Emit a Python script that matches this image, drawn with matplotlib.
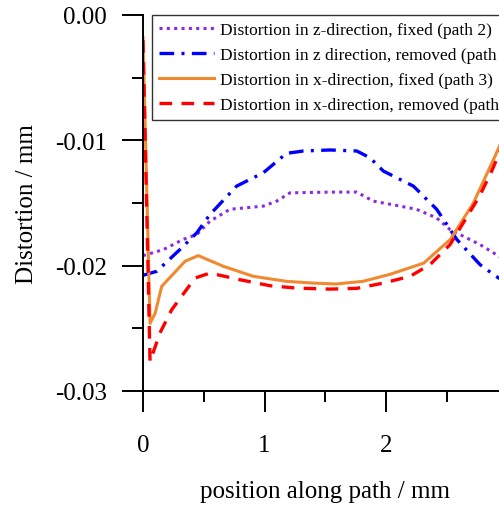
import numpy as np
import matplotlib
matplotlib.use("Agg")
from matplotlib import pyplot as plt

plt.rcParams['font.family'] = ['Liberation Serif', 'DejaVu Serif']

# z-direction, fixed (path 2)
x_zfix = [0.0, 0.167, 0.332, 0.442, 0.551, 0.716, 0.99, 1.10, 1.21, 1.539, 1.759,
          1.895, 2.09, 2.25, 2.417, 2.527, 2.636, 2.774, 2.905, 3.0]
y_zfix = [-0.0192, -0.01872, -0.0179, -0.01752, -0.01645, -0.0155, -0.01525, -0.01485,
          -0.01419, -0.01413, -0.01413, -0.01485, -0.0152, -0.0155, -0.01619, -0.01712,
          -0.01765, -0.01832, -0.0191, -0.0197]

# z direction, removed (path 2)
x_zrem = [0.0, 0.113, 0.305, 0.442, 0.551, 0.771, 0.99, 1.18, 1.32, 1.539, 1.759,
          1.868, 1.978, 2.225, 2.417, 2.582, 2.774, 2.905, 3.0]
y_zrem = [-0.02077, -0.02045, -0.0187, -0.01739, -0.01592, -0.01365, -0.01259, -0.01104,
          -0.01085, -0.01077, -0.01085, -0.01139, -0.01245, -0.01365, -0.0155, -0.0179,
          -0.01992, -0.02085, -0.0214]

# x-direction, fixed (path 3)
x_xfix = [0.0, 0.058, 0.10, 0.154, 0.346, 0.455, 0.661, 0.908, 1.18, 1.40, 1.59,
          1.81, 2.03, 2.31, 2.53, 2.72, 2.905, 3.0]
y_xfix = [-0.0018, -0.0246, -0.0238, -0.02165, -0.01965, -0.0192, -0.02005, -0.02085,
          -0.02125, -0.02139, -0.02146, -0.02125, -0.0207, -0.0198, -0.0179, -0.01499,
          -0.0111, -0.0090]

# x-direction, removed (path 3)
x_xrem = [0.0, 0.058, 0.14, 0.236, 0.428, 0.551, 0.798, 1.045, 1.265, 1.539, 1.759,
          1.978, 2.198, 2.362, 2.527, 2.77, 2.87, 3.0]
y_xrem = [-0.0020, -0.02765, -0.02536, -0.02352, -0.02099, -0.02059, -0.02112, -0.0216,
          -0.02179, -0.02187, -0.02181, -0.02139, -0.02085, -0.01992, -0.01832, -0.01445,
          -0.01245, -0.0095]

labels = ["Distortion in z-direction, fixed (path 2)",
          "Distortion in z direction, removed (path 2)",
          "Distortion in x-direction, fixed (path 3)",
          "Distortion in x-direction, removed (path 3)"]

fig = plt.figure(figsize=(4.99, 5.06), dpi=100)
ax = fig.add_axes([143/499, (506-392)/506, 364.5/499, 376/506])

ax.plot(x_zfix, y_zfix, color="#8a2be2", lw=2.2, linestyle=(0, (1, 1.4)), label=labels[0])
ax.plot(x_zrem, y_zrem, color="#0000ff", lw=2.4, linestyle=(0, (4.4, 2.2, 0.9, 2.2)), label=labels[1])
ax.plot(x_xfix, y_xfix, color="#f08a30", lw=2.2, linestyle="-", label=labels[2])
ax.plot(x_xrem, y_xrem, color="#ff0000", lw=2.4, linestyle=(0, (3.8, 2.8)), label=labels[3])

ax.set_xlim(0, 3)
ax.set_ylim(-0.03, 0.0)
ax.set_xticks([0, 1, 2])
ax.set_xticklabels(["0", "1", "2"])
ax.set_xticks([0.5, 1.5, 2.5], minor=True)
ax.set_yticks([0.0, -0.01, -0.02, -0.03])
ax.set_yticklabels(["0.00", "-0.01", "-0.02", "-0.03"])
ax.set_yticks([-0.005, -0.015, -0.025], minor=True)

for s in ["top", "right"]:
    ax.spines[s].set_visible(False)
for s in ["left", "bottom"]:
    ax.spines[s].set_linewidth(1.4)

ax.tick_params(which="major", direction="out", length=15, width=1.4, labelsize=18, pad=11)
ax.tick_params(axis="x", which="major", pad=16)
ax.tick_params(which="minor", direction="out", length=8, width=1.4)

ax.set_xlabel("position along path / mm", fontsize=18, labelpad=17)
ax.set_ylabel("Distortion / mm", fontsize=18, labelpad=12)

leg = fig.legend(loc="upper left", bbox_to_anchor=(152/499, 1 - 16/506), borderaxespad=0,
                 fontsize=12.5, frameon=True, fancybox=False, framealpha=1,
                 handlelength=3.2, handletextpad=0.35, labelspacing=0.52, borderpad=0.38)
leg.get_frame().set_edgecolor("#333333")
leg.get_frame().set_linewidth(1.0)

plt.savefig("out.png", dpi=100)
